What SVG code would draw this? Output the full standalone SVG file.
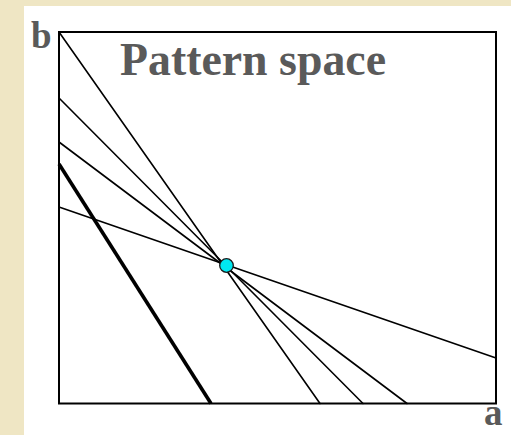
<svg xmlns="http://www.w3.org/2000/svg" width="511" height="435" viewBox="0 0 511 435">
  <style>
    .lbl { font-family: "Liberation Serif", "DejaVu Serif", serif; font-weight: bold; fill: #5a5a5a; }
    .ln { stroke: #000; stroke-width: 1.6; fill: none; stroke-linecap: round; }
  </style>
  <rect x="0" y="0" width="511" height="435" fill="#efe6c4"/>
  <rect x="24" y="6" width="487" height="429" fill="#ffffff"/>
  <g id="frame">
    <rect x="59" y="32" width="437" height="371.5" fill="none" stroke="#000" stroke-width="2"/>
  </g>
  <g id="lines">
    <line class="ln" x1="59" y1="32" x2="320" y2="403.5"/>
    <line class="ln" x1="59" y1="98" x2="363" y2="403.5"/>
    <line class="ln" x1="59" y1="142" x2="407" y2="403.5"/>
    <line class="ln" x1="59" y1="207" x2="496" y2="358"/>
    <line x1="59" y1="164" x2="211" y2="403.5" stroke="#000" stroke-width="3.6"/>
  </g>
  <g id="point">
    <circle cx="226.5" cy="265.5" r="6.8" fill="#00e8f0" stroke="#1a1a1a" stroke-width="1.3"/>
  </g>
  <g id="labels">
    <text class="lbl" x="31" y="48" font-size="37">b</text>
    <text class="lbl" x="484" y="425" font-size="37">a</text>
    <text class="lbl" x="120" y="75" font-size="46" textLength="266" lengthAdjust="spacingAndGlyphs">Pattern space</text>
  </g>
</svg>
